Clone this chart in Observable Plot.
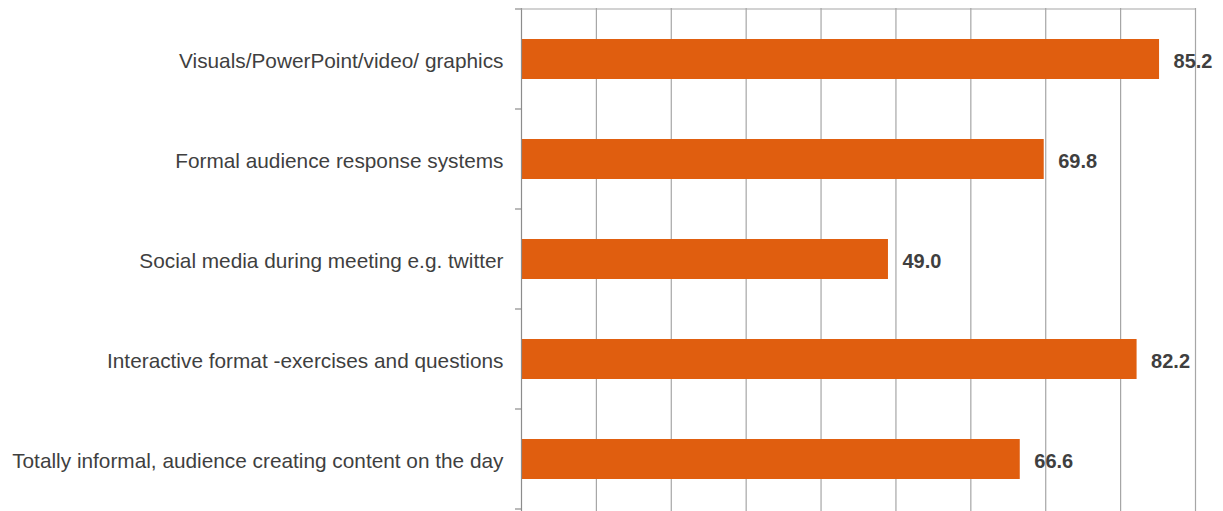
<!DOCTYPE html>
<html><head><meta charset="utf-8">
<script src="https://cdn.jsdelivr.net/npm/d3@7"></script>
<script src="https://cdn.jsdelivr.net/npm/@observablehq/plot@0.6"></script>
<style>
html,body{margin:0;padding:0;background:#fff;overflow:hidden;}
svg{display:block;}
</style>
</head><body><div id="chart"></div>
<script>
const categories = [
  "Visuals/PowerPoint/video/ graphics",
  "Formal audience response systems",
  "Social media during meeting e.g. twitter",
  "Interactive format -exercises and questions",
  "Totally informal, audience creating content on the day"
];
const values = [85.2, 69.8, 49.0, 82.2, 66.6];
const xTicks = [0, 10, 20, 30, 40, 50, 60, 70, 80, 90];

const data = categories.map((c, i) => ({category: c, value: values[i]}));

const chart = Plot.plot({
  width: 1223,
  height: 511,
  marginLeft: 521,
  marginRight: 28,
  marginTop: 8,
  marginBottom: 0,
  style: {fontFamily: "Liberation Sans, Arial, sans-serif", background: "#fff"},
  x: {domain: [0, 90], axis: null},
  y: {domain: categories, padding: 0.6, paddingOuter: 0.3, align: 0.5, axis: null},
  marks: [
    Plot.ruleX(xTicks.slice(1), {stroke: "#a6a6a6", strokeWidth: 1.2, strokeOpacity: 1}),
    Plot.barX(data, {x: "value", y: "category", fill: "#E05E0F"}),
    Plot.ruleX([0], {stroke: "#8c8c8c", strokeWidth: 1.2}),
    Plot.text(data, {x: "value", y: "category", text: d => d.value.toFixed(1), dx: 14, dy: 2, textAnchor: "start",
      fontWeight: "bold", fontSize: 20, fill: "#3f3f3f"}),
    Plot.axisY({tickSize: 0, tickPadding: 18, dy: 2, fontSize: 20.8, fill: "#3f3f3f", color: "#3f3f3f", label: null})
  ]
});

// structure: top border and boundary ticks derived from scales
const xs = chart.scale("x"), ys = chart.scale("y");
const svg = d3.select(chart);
const x0 = xs.apply(0), x1 = xs.apply(90);
const step = ys.step;
const yTop = ys.apply(categories[0]) - (step - ys.bandwidth) / 2;
svg.append("line").attr("x1", x0).attr("x2", x1).attr("y1", yTop).attr("y2", yTop)
  .attr("stroke", "#a6a6a6").attr("stroke-width", 1.2);
for (let i = 0; i <= categories.length; i++) {
  const yb = yTop + i * step;
  svg.append("line").attr("x1", x0 - 6).attr("x2", x0).attr("y1", yb).attr("y2", yb)
    .attr("stroke", "#8c8c8c").attr("stroke-width", 1.2);
}
document.getElementById("chart").appendChild(chart);
</script>
</body></html>
